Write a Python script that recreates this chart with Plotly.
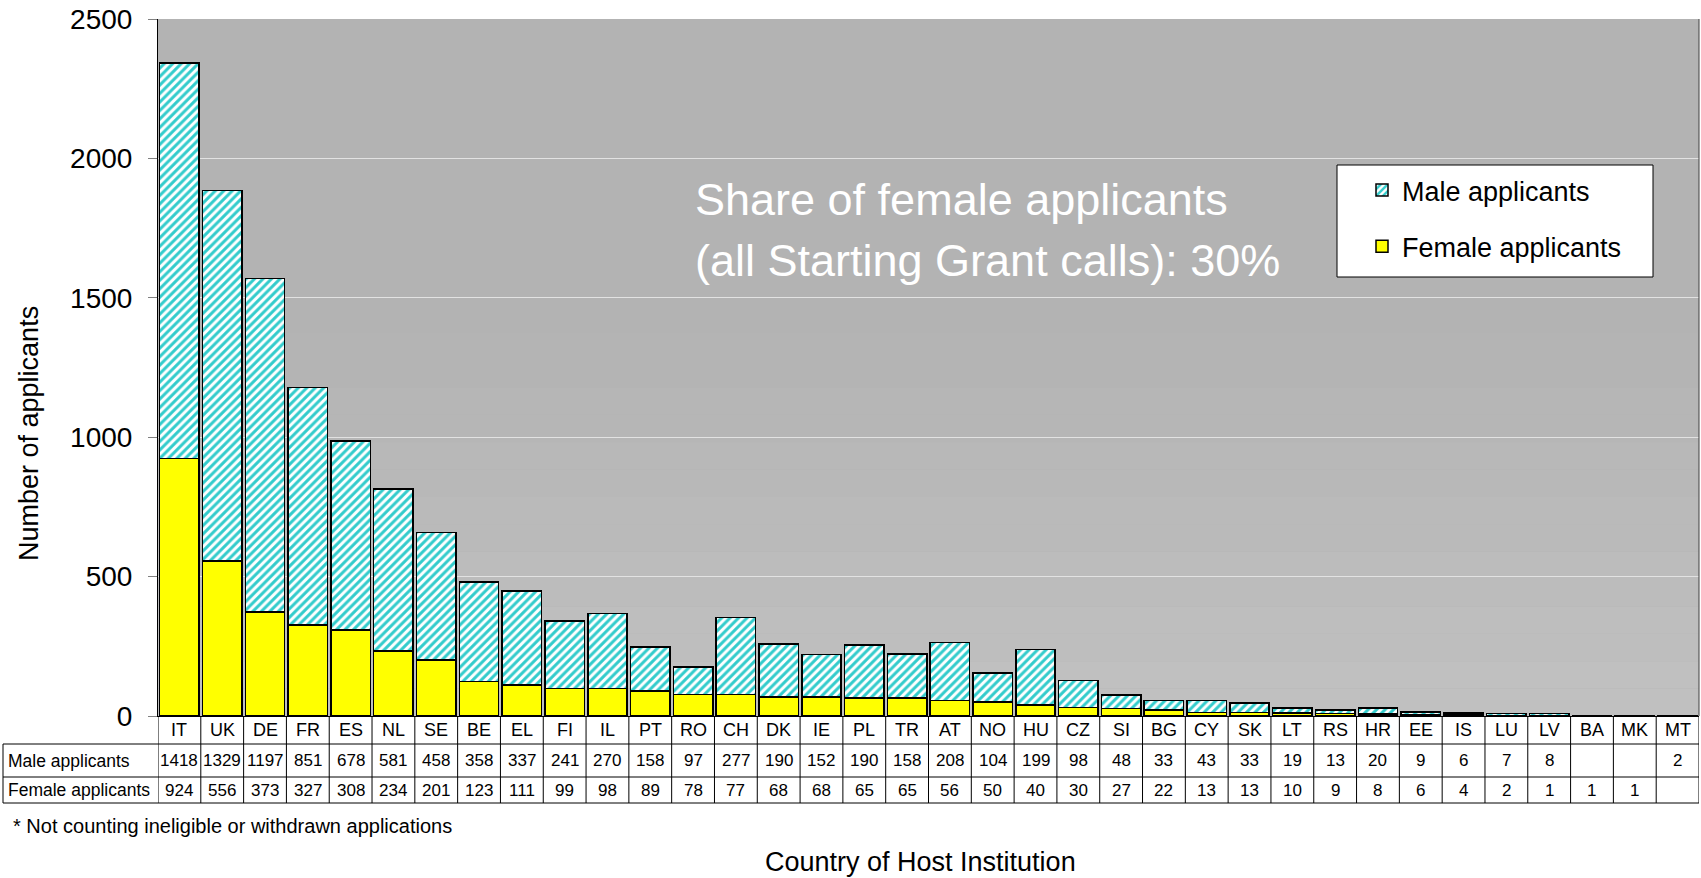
import plotly.graph_objects as go

countries = ["IT","UK","DE","FR","ES","NL","SE","BE","EL","FI","IL","PT","RO","CH","DK","IE","PL","TR",
             "AT","NO","HU","CZ","SI","BG","CY","SK","LT","RS","HR","EE","IS","LU","LV","BA","MK","MT"]
male = [1418,1329,1197,851,678,581,458,358,337,241,270,158,97,277,190,152,190,158,
        208,104,199,98,48,33,43,33,19,13,20,9,6,7,8,None,None,2]
female = [924,556,373,327,308,234,201,123,111,99,98,89,78,77,68,68,65,65,
          56,50,40,30,27,22,13,13,10,9,8,6,4,2,1,1,1,None]
row_labels = ["Male applicants", "Female applicants"]
y_ticks = [0, 500, 1000, 1500, 2000, 2500]

W, H = 1701, 878
L, R, T, B = 158, 1699, 19, 716
PW, PH = R - L, B - T
FONT = "Liberation Sans, Arial, sans-serif"

def px2x(px):
    return (px - L) / PW

def py2y(py):
    return (B - py) / PH

fig = go.Figure()
fig.add_trace(go.Bar(
    x=countries, y=female, name="Female applicants",
    marker=dict(color="#FFFF00", line=dict(color="black", width=1.5)),
    legendgroup="f", legendrank=2, hoverinfo="skip"))
fig.add_trace(go.Bar(
    x=countries, y=male, name="Male applicants",
    marker=dict(color="white", line=dict(color="black", width=1.5),
                pattern=dict(shape="/", fgcolor="#33CCCC", bgcolor="white",
                             size=6, solidity=0.5, fillmode="replace")),
    legendgroup="m", legendrank=1, hoverinfo="skip"))

shapes = []
# subtle background gradient (lighter near the bottom)
nb = 14
for i in range(nb):
    y0 = 0.55 * i / nb
    y1 = 0.55 * (i + 1) / nb
    t = 1 - (i + 0.5) / nb
    v = int(round(0xB3 + (0xC1 - 0xB3) * t))
    shapes.append(dict(type="rect", xref="paper", yref="paper", x0=0, x1=1, y0=y0, y1=y1,
                       fillcolor=f"rgb({v},{v},{v})", line=dict(width=0), layer="below"))
# right border of plot area
shapes.append(dict(type="line", xref="paper", yref="paper", x0=1, x1=1, y0=0, y1=1,
                   line=dict(color="#404040", width=1)))

# data table grid
for py in [744, 777, 803]:
    shapes.append(dict(type="line", xref="paper", yref="paper", x0=px2x(3), x1=1,
                       y0=py2y(py), y1=py2y(py), line=dict(color="black", width=1)))
shapes.append(dict(type="line", xref="paper", yref="paper", x0=px2x(3), x1=px2x(3),
                   y0=py2y(744), y1=py2y(803), line=dict(color="black", width=1)))
for i in range(len(countries) + 1):
    shapes.append(dict(type="line", xref="x", yref="paper", x0=i - 0.5, x1=i - 0.5,
                       y0=0, y1=py2y(803), line=dict(color="black", width=1)))

# legend box
shapes.append(dict(type="rect", xref="paper", yref="paper", x0=px2x(1337), x1=px2x(1653),
                   y0=py2y(277), y1=py2y(165), fillcolor="white",
                   line=dict(color="black", width=1), layer="above"))

def ann(x, y, text, size, xref="paper", xanchor="center", color="black", angle=0):
    return dict(x=x, y=y, xref=xref, yref="paper", text=text, showarrow=False,
                xanchor=xanchor, yanchor="middle", textangle=angle,
                font=dict(size=size, color=color, family=FONT))

annotations = []
for i, c in enumerate(countries):
    annotations.append(ann(i, py2y(730), c, 18, xref="x"))
    if male[i] is not None:
        annotations.append(ann(i, py2y(761), str(male[i]), 17, xref="x"))
    if female[i] is not None:
        annotations.append(ann(i, py2y(790), str(female[i]), 17, xref="x"))
for lab, py in zip(row_labels, [761, 790]):
    annotations.append(ann(px2x(6), py2y(py), lab, 17.5, xanchor="left"))

annotations.append(ann(px2x(693), py2y(200), "Share of female applicants", 45,
                       xanchor="left", color="white"))
annotations.append(ann(px2x(693), py2y(260), "(all Starting Grant calls): 30%", 45,
                       xanchor="left", color="white"))
annotations.append(ann(px2x(11), py2y(826), "* Not counting ineligible or withdrawn applications",
                       20, xanchor="left"))
annotations.append(ann(px2x(920), py2y(862), "Country of Host Institution", 27))
annotations.append(ann(px2x(29), py2y(434), "Number of applicants", 27, angle=-90))

fig.update_layout(
    width=W, height=H,
    margin=dict(l=L, r=W - R, t=T, b=H - B, pad=0),
    paper_bgcolor="white", plot_bgcolor="#B3B3B3",
    barmode="stack", bargap=0.08,
    font=dict(family=FONT, color="black"),
    showlegend=True,
    legend=dict(x=px2x(1362), y=py2y(166), xanchor="left", yanchor="top",
                bgcolor="rgba(0,0,0,0)", borderwidth=0,
                font=dict(size=27, color="black", family=FONT),
                traceorder="grouped", tracegroupgap=18),
    shapes=shapes, annotations=annotations,
    xaxis=dict(type="category", range=[-0.5, len(countries) - 0.5], showticklabels=False,
               ticks="", showgrid=False, showline=True, linecolor="black", linewidth=1,
               zeroline=False, fixedrange=True),
    yaxis=dict(range=[0, 2500], tickvals=y_ticks, ticks="outside", ticklen=9, tickcolor="#808080",
               tickfont=dict(size=28, color="black", family=FONT), ticklabelstandoff=10,
               showgrid=True, gridcolor="#E2E2E2", gridwidth=1,
               showline=True, linecolor="black", linewidth=1, zeroline=False, fixedrange=True),
)

fig.write_html("out.html", config={"displayModeBar": False},
               post_script="document.body.style.margin='0';document.body.style.overflow='hidden';")
